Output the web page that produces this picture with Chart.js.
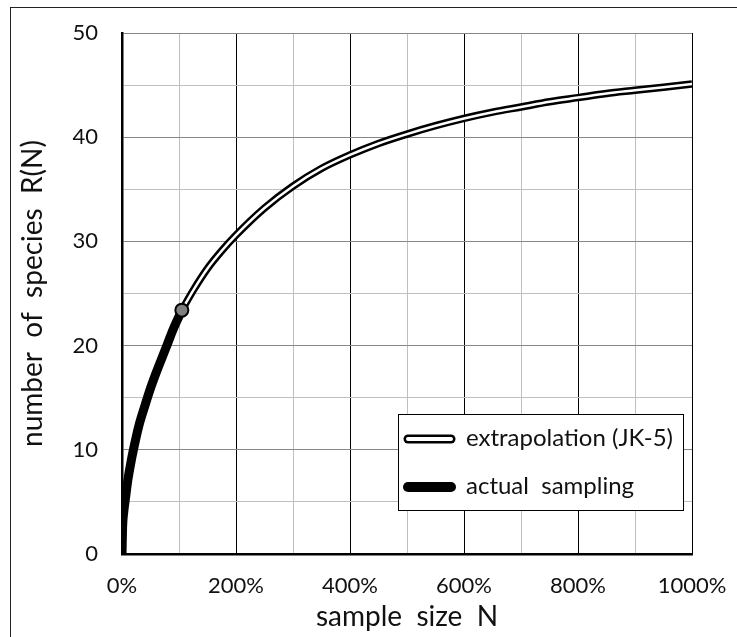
<!DOCTYPE html>
<html>
<head>
<meta charset="utf-8">
<script src="https://cdn.jsdelivr.net/npm/chart.js@4"></script>
<style>
  body { margin: 0; background: #fff; }
  canvas { display: block; }
</style>
</head>
<body>
<canvas id="chart" width="737" height="637"></canvas>
<script>
// sample size (% of actual sample) and species counts
var actualX = [0, 1, 3, 6, 10, 15, 20, 30, 40, 50, 60, 70, 80, 90, 105];
var actualY = [0, 2.5, 4, 5.3, 7, 8.6, 10, 12.4, 14.2, 15.9, 17.4, 18.8, 20.2, 21.6, 23.4];

var extraX = [105, 125, 150, 175, 200, 250, 300, 350, 400, 450, 500, 550, 600, 650, 700, 750, 800, 850, 900, 950, 1000];
var extraY = [23.4, 25.3, 27.4, 29.1, 30.6, 33.2, 35.3, 37.0, 38.3, 39.4, 40.3, 41.1, 41.8, 42.4, 42.9, 43.4, 43.8, 44.2, 44.5, 44.8, 45.1];

var markerX = [105];
var markerY = [23.4];

var legendLabels = ["extrapolation (JK-5)", "actual  sampling"];

var FONT = "Lato, 'Open Sans', sans-serif";

function pts(xs, ys) {
  return xs.map(function (x, i) { return { x: x, y: ys[i] }; });
}

// outer frame + legend drawn inside the plot
var decor = {
  id: 'decor',
  beforeDraw: function (chart) {
    var ctx = chart.ctx;
    ctx.save();
    ctx.strokeStyle = '#222';
    ctx.lineWidth = 1;
    ctx.strokeRect(10.5, 7.5, 740, 640);
    ctx.restore();
  },
  afterDatasetsDraw: function (chart) {
    var ctx = chart.ctx;
    ctx.save();
    ctx.fillStyle = '#fff';
    ctx.fillRect(398, 414, 285, 96);
    ctx.strokeStyle = '#000';
    ctx.lineWidth = 1;
    ctx.strokeRect(398.5, 414.5, 285, 96);

    ctx.lineCap = 'round';
    // double line swatch
    ctx.strokeStyle = '#000';
    ctx.lineWidth = 9;
    ctx.beginPath(); ctx.moveTo(408, 439); ctx.lineTo(451, 439); ctx.stroke();
    ctx.strokeStyle = '#fff';
    ctx.lineWidth = 4;
    ctx.beginPath(); ctx.moveTo(408, 439); ctx.lineTo(451, 439); ctx.stroke();
    // solid swatch
    ctx.strokeStyle = '#000';
    ctx.lineWidth = 10;
    ctx.beginPath(); ctx.moveTo(408, 487); ctx.lineTo(451, 487); ctx.stroke();

    ctx.fillStyle = '#111';
    ctx.font = '24px ' + FONT;
    ctx.textBaseline = 'middle';
    ctx.fillText(legendLabels[0], 466, 438);
    ctx.fillText(legendLabels[1], 466, 486);
    ctx.restore();
  }
};

new Chart(document.getElementById('chart'), {
  type: 'scatter',
  data: {
    datasets: [
      {
        label: 'marker',
        data: pts(markerX, markerY),
        showLine: false,
        pointRadius: 6.5,
        pointBackgroundColor: '#7f7f7f',
        pointBorderColor: '#000',
        pointBorderWidth: 2,
        order: 0
      },
      {
        label: 'extrapolation inner',
        data: pts(extraX, extraY),
        showLine: true,
        borderColor: '#fff',
        borderWidth: 2.5,
        pointRadius: 0,
        cubicInterpolationMode: 'monotone',
        order: 1
      },
      {
        label: 'extrapolation outer',
        data: pts(extraX, extraY),
        showLine: true,
        borderColor: '#000',
        borderWidth: 7.5,
        pointRadius: 0,
        cubicInterpolationMode: 'monotone',
        order: 2
      },
      {
        label: 'actual sampling',
        data: pts(actualX, actualY),
        showLine: true,
        borderColor: '#000',
        borderWidth: 9,
        pointRadius: 0,
        cubicInterpolationMode: 'monotone',
        order: 3
      }
    ]
  },
  options: {
    responsive: false,
    animation: false,
    layout: { padding: { left: 0, right: 45, top: 33, bottom: 0 } },
    plugins: {
      legend: { display: false },
      tooltip: { enabled: false }
    },
    scales: {
      x: {
        type: 'linear',
        min: 0,
        max: 1000,
        afterFit: function (s) { s.height = 83; s.paddingLeft = 0; s.paddingRight = 0; },
        border: { color: '#000', width: 2.5 },
        grid: {
          drawTicks: false,
          color: function (c) { return c.tick.value % 200 === 0 ? '#000' : '#bfbfbf'; },
          lineWidth: 1
        },
        ticks: {
          stepSize: 100,
          autoSkip: false,
          maxRotation: 0,
          padding: 19,
          color: '#111',
          font: { family: FONT, size: 22 },
          callback: function (v) { return v % 200 === 0 ? v + '%' : ''; }
        },
        title: {
          display: true,
          text: 'sample  size  N',
          color: '#111',
          font: { family: FONT, size: 28 },
          padding: { top: 0, bottom: 3 }
        }
      },
      y: {
        min: 0,
        max: 50,
        afterFit: function (s) { s.width = 122; s.paddingTop = 0; s.paddingBottom = 0; },
        border: { color: '#000', width: 2.5 },
        grid: {
          drawTicks: false,
          color: function (c) { return c.tick.value % 10 === 0 ? '#868686' : '#bfbfbf'; },
          lineWidth: 1
        },
        ticks: {
          stepSize: 5,
          autoSkip: false,
          padding: 24,
          color: '#111',
          font: { family: FONT, size: 22 },
          callback: function (v) { return v % 10 === 0 ? v : ''; }
        },
        title: {
          display: true,
          text: 'number  of  species  R(N)',
          color: '#111',
          font: { family: FONT, size: 28 },
          padding: { top: 16, bottom: 0 }
        }
      }
    }
  },
  plugins: [decor]
});
</script>
</body>
</html>
